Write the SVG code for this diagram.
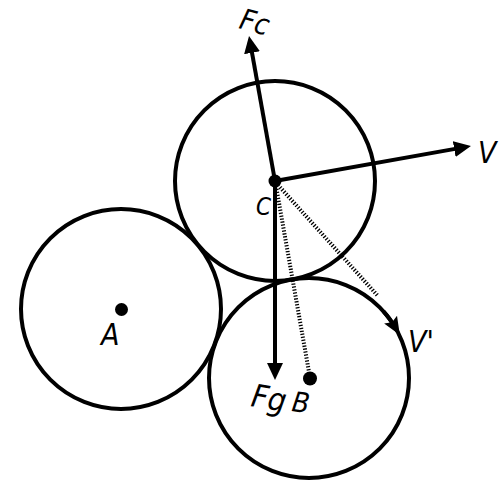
<svg xmlns="http://www.w3.org/2000/svg" width="500" height="500" viewBox="0 0 500 500">
<style>
.circ{fill:none;stroke:#000;stroke-width:4}
.arr{fill:none;stroke:#000;stroke-width:4}
.dot{stroke:#000;stroke-width:4;stroke-dasharray:1.3 1.7;fill:none}
.lbl{font-family:"DejaVu Sans Condensed","DejaVu Sans",sans-serif;font-stretch:condensed;font-style:italic;fill:#000}
</style>
<defs>
<marker id="ah" markerUnits="userSpaceOnUse" markerWidth="20" markerHeight="20" viewBox="0 -10 20 20" refX="8" refY="0" orient="auto">
<path d="M0,-8 L17,0 L0,8 Z" fill="#000"/>
</marker>
<marker id="ah2" markerUnits="userSpaceOnUse" markerWidth="22" markerHeight="22" viewBox="0 -11 22 22" refX="8" refY="0" orient="auto">
<path d="M0,-7.5 L18,0 L0,7.5 L3,0 Z" fill="#000"/>
</marker>
</defs>
<g id="nodeC"><circle class="circ" cx="275" cy="181" r="100"/><circle cx="275" cy="181" r="6.5"/></g>
<g id="nodeA"><circle class="circ" cx="121" cy="309" r="100"/><circle cx="121.5" cy="309.5" r="6.5"/></g>
<g id="nodeB"><circle class="circ" cx="309" cy="378" r="100"/><circle cx="310" cy="378.5" r="7"/></g>
<g id="connectors">
<line class="arr" x1="275" y1="181" x2="250.6" y2="44.9" marker-end="url(#ah)"/>
<line class="arr" x1="275" y1="181" x2="462.1" y2="147.6" marker-end="url(#ah)"/>
<line class="arr" x1="275" y1="181" x2="275" y2="371" marker-end="url(#ah)"/>
<line class="dot" x1="276" y1="186" x2="309" y2="372"/>
<line class="dot" x1="278" y1="185" x2="378" y2="296"/>
<path class="arr" d="M383.3,311.1 A100,100 0 0 1 394.7,326.5" marker-end="url(#ah2)"/>
</g>
<g id="labels">
<text class="lbl" font-size="29" transform="rotate(15 238 28)" x="238" y="28">Fc</text>
<text class="lbl" font-size="30" x="478" y="163">V</text>
<text class="lbl" font-size="30" x="408" y="352">V'</text>
<text class="lbl" font-size="24" x="256" y="215">C</text>
<text class="lbl" font-size="30" x="101" y="345">A</text>
<text class="lbl" font-size="32" transform="rotate(10 250 406)" x="250" y="406">Fg</text>
<text class="lbl" font-size="28" transform="rotate(8 291 411)" x="291" y="411">B</text>
</g>
</svg>
